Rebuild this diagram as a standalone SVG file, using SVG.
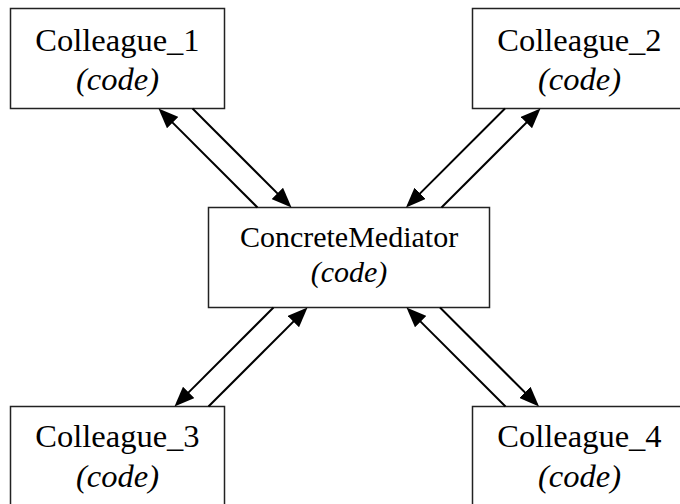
<svg xmlns="http://www.w3.org/2000/svg" width="680" height="504" viewBox="0 0 680 504">
<style>
.box{fill:#fff;stroke:#222;stroke-width:1.5}
.t{font-family:"Liberation Serif","Times New Roman",serif;fill:#000;text-anchor:middle}
.n{font-size:32.5px}
.m{font-size:30px}
.i{font-style:italic}
.e{stroke:#000;stroke-width:2;fill:none;marker-end:url(#ah)}
</style>
<defs>
<marker id="ah" markerUnits="userSpaceOnUse" markerWidth="20" markerHeight="16" viewBox="0 0 20 16" refX="17" refY="8" orient="auto">
<path d="M0,0 L20,8 L0,16 z" fill="#000"/>
</marker>
</defs>
<rect width="680" height="504" fill="#fff"/>
<g id="colleague1">
<rect class="box" x="10.5" y="8.5" width="214" height="100"/>
<text class="t n" x="117.5" y="50.5">Colleague_1</text>
<text class="t n i" x="117.5" y="90">(code)</text>
</g>
<g id="colleague2">
<rect class="box" x="472.5" y="8.5" width="214" height="100"/>
<text class="t n" x="579.5" y="50.5">Colleague_2</text>
<text class="t n i" x="579.5" y="90">(code)</text>
</g>
<g id="mediator">
<rect class="box" x="208.5" y="207.5" width="281" height="100"/>
<text class="t m" x="349" y="246.5">ConcreteMediator</text>
<text class="t m i" x="349" y="281.5">(code)</text>
</g>
<g id="colleague3">
<rect class="box" x="10.5" y="406.5" width="214" height="100"/>
<text class="t n" x="117.5" y="447">Colleague_3</text>
<text class="t n i" x="117.5" y="487">(code)</text>
</g>
<g id="colleague4">
<rect class="box" x="472.5" y="406.5" width="214" height="100"/>
<text class="t n" x="579.5" y="447">Colleague_4</text>
<text class="t n i" x="579.5" y="487">(code)</text>
</g>
<g id="connectors">
<path class="e" d="M257.5,207.5 L160.6,110.6"/>
<path class="e" d="M192.5,108.5 L289.4,205.4"/>
<path class="e" d="M505,108.5 L408.1,205.4"/>
<path class="e" d="M441.5,207.5 L538.4,110.6"/>
<path class="e" d="M273.5,307.5 L176.6,404.4"/>
<path class="e" d="M208.5,406.5 L305.4,309.6"/>
<path class="e" d="M505.5,406.5 L408.6,309.6"/>
<path class="e" d="M440,307.5 L536.9,404.4"/>
</g>
</svg>
